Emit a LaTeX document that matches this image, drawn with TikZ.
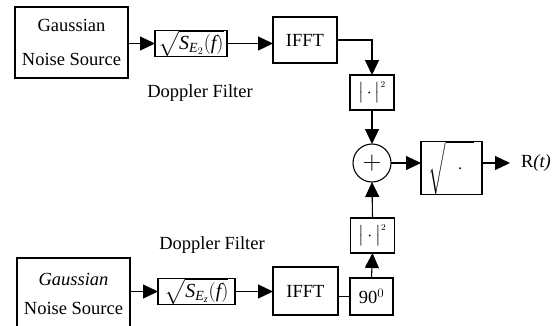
\documentclass[tikz,border=0pt]{standalone}
\usepackage{fix-cm}
\usepackage{amsmath}
\usepackage{fontspec}
\setmainfont{Liberation Serif}
\usetikzlibrary{arrows.meta}
\newcommand\vi[1]{\text{\itshape #1}}
\newcommand\absq{$\bigl|\,\cdot\,\bigr|^{\scriptscriptstyle 2}$}
\begin{document}
\begin{tikzpicture}[x=1pt,y=-1pt,
  every node/.style={inner sep=0pt,outer sep=0pt},
  blk/.style={draw,line width=1.1pt,rectangle,align=center},
  lbl/.style={font=\fontsize{18.5}{22}\selectfont},
  mth/.style={font=\fontsize{20}{22}\selectfont},
  sqbox/.style={blk,minimum width=44pt,minimum height=35pt,font=\fontsize{18}{20}\selectfont},
  arr/.style={line width=1.1pt,-{Triangle[length=15pt,width=14pt]}},
  ln/.style={line width=1.1pt}]
\useasboundingbox (0,0) rectangle (559,325);

% upper branch
\node[blk,minimum width=113pt,minimum height=71pt,
      font=\fontsize{18.5}{34}\selectfont] (gauss1) at (71.5,42.5) {Gaussian\\Noise Source};
\node[blk,mth,minimum width=72pt,minimum height=23pt]
      (filt1) at (191,43.5) {$\sqrt{\vi{S}_{\vi{E}_{2}}(\vi{f})}$};
\node[lbl] (dop1) at (200,93) {Doppler Filter};
\node[blk,lbl,minimum width=64pt,minimum height=46pt] (ifft1) at (305,40) {IFFT};
\node[sqbox] (sq1) at (372,92.5) {\absq};

% summing junction and output stage
\node[draw,line width=1.1pt,circle,minimum size=38pt,font=\fontsize{26}{28}\selectfont]
      (sum) at (372,163) {$+$};
\node[blk,minimum width=61pt,minimum height=50pt,font=\fontsize{19}{21}\selectfont]
      (root) at (451.5,168) {$\sqrt{\vphantom{\bigg|}\hspace{0.6em}\cdot\hspace{0.6em}}$};
\node[lbl,anchor=west] (out) at (521,163) {R\textit{(t)}};

% lower branch
\node[sqbox] (sq2) at (372.5,235.5) {\absq};
\node[lbl] (dop2) at (212,245) {Doppler Filter};
\node[blk,minimum width=113pt,minimum height=72pt,
      font=\fontsize{18.5}{29}\selectfont] (gauss2) at (73.5,294) {\textit{Gaussian}\\Noise Source};
\node[blk,mth,minimum width=77pt,minimum height=23pt]
      (filt2) at (196.5,291.5) {$\sqrt{\vi{S}_{\vi{E}_{\vi{z}}}(\vi{f})}$};
\node[blk,lbl,minimum width=65pt,minimum height=48pt] (ifft2) at (305.5,291) {IFFT};
\node[blk,lbl,minimum width=43pt,minimum height=37pt] (ph) at (371.5,296.5) {90$^{0}$};

% connectors
\draw[arr] (gauss1.east |- filt1.west) -- (filt1.west);
\draw[arr] (filt1.east) -- (filt1.east -| ifft1.west);
\draw[arr] (ifft1.east) -| (sq1.north);
\draw[arr] (sq1.south) -- (sum.north);
\draw[arr] (sum.east) -- (sum.east -| root.west);
\coordinate (rend) at (510,163);
\draw[arr] (root.east |- sum.east) -- (rend);

\draw[arr] (gauss2.east |- filt2.west) -- (filt2.west);
\draw[arr] (filt2.east) -- (filt2.east -| ifft2.west);
\draw[ln] (ifft2.east |- ph.west) -- (ph.west);
\draw[arr] (ph.north) -- (sq2.south);
\draw[arr] (sq2.north) -- (sum.south);
\end{tikzpicture}
\end{document}
